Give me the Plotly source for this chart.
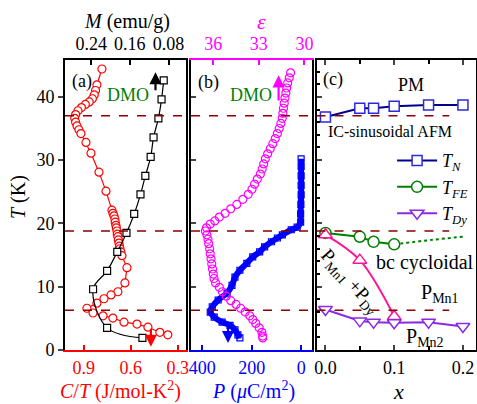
import plotly.graph_objects as go

FONT = "Liberation Serif"

# ---------------- Panel (a) ----------------
T_M = [42.6, 39.6, 36.6, 33.6, 30.5, 27.5, 24.6, 21.5, 18.5, 15.5, 12.5, 9.6, 3.5, 1.9]
M_vals = [0.090, 0.0945, 0.101, 0.111, 0.117, 0.128, 0.138, 0.151, 0.167, 0.186, 0.207, 0.236, 0.207, 0.134]

T_C = [44.4, 41.9, 41.0, 40.3, 39.7, 39.2, 38.8, 38.3, 37.8, 37.2, 36.6, 36.0, 35.4, 34.8, 34.2,
       32.8, 31.1, 28.1, 25.1, 22.1, 21.6, 21.2, 20.7, 20.2, 19.7, 19.3, 18.8, 18.3, 17.9, 17.4,
       16.9, 16.4, 16.0, 15.5, 14.9, 13.0, 10.6, 9.2, 8.7, 8.1, 7.4, 6.6, 5.85, 5.4, 5.05,
       4.4, 4.1, 3.6, 2.8, 2.4]
CT_vals = [0.784, 0.816, 0.825, 0.833, 0.845, 0.865, 0.89, 0.915, 0.937, 0.952, 0.958, 0.952, 0.943, 0.931, 0.918,
           0.886, 0.854, 0.803, 0.758, 0.72, 0.714, 0.707, 0.701, 0.699, 0.695, 0.692, 0.688, 0.686, 0.682, 0.679,
           0.675, 0.672, 0.669, 0.663, 0.656, 0.624, 0.637, 0.682, 0.726, 0.771, 0.816, 0.88, 0.841, 0.777, 0.714,
           0.643, 0.56, 0.49, 0.414, 0.363]

# ---------------- Panel (b) ----------------
T_eps = [43.8, 43.0, 42.2, 41.4, 40.6, 39.8, 39.0, 38.2, 37.4, 36.6, 35.8, 35.0, 34.2, 33.4, 32.6,
         31.8, 31.0, 30.2, 29.4, 28.6, 27.8, 27.0, 26.2, 25.4, 24.6, 23.8, 23.0, 22.3, 21.6, 21.0,
         20.4, 19.9, 19.3, 18.8, 18.2, 17.5, 16.8, 16.0, 15.2, 14.4, 13.6, 12.8, 12.0, 11.3, 10.6,
         9.9, 9.2, 8.5, 7.8, 7.2, 6.6, 6.0, 5.4, 4.8, 4.2, 3.5, 2.8, 2.2, 1.9]
eps_vals = [30.91, 31.0, 31.1, 31.17, 31.22, 31.28, 31.33, 31.38, 31.42, 31.46, 31.55, 31.66, 31.78, 31.92, 32.08,
            32.25, 32.42, 32.57, 32.68, 32.78, 32.9, 33.1, 33.28, 33.45, 33.7, 34.05, 34.45, 34.85, 35.22, 35.6,
            35.9, 36.2, 36.45, 36.52, 36.42, 36.35, 36.3, 36.24, 36.2, 36.15, 36.1, 36.05, 36.0, 35.95, 35.85,
            35.6, 35.4, 35.15, 34.85, 34.5, 34.2, 33.9, 33.6, 33.4, 33.2, 32.98, 32.8, 32.75, 32.74]

T_P = [30.2, 29.0, 27.5, 26.0, 24.5, 23.0, 21.5, 20.2, 19.4, 19.0, 18.2, 17.7, 17.1, 16.3, 15.5,
       14.7, 13.7, 12.6, 11.5, 10.2, 9.0, 7.9, 6.8, 6.0, 5.2, 4.4, 3.9, 3.2, 2.4, 1.9]
P_vals = [0, 0, 0, 0, 0, 1, 2, 2, 16, 40, 76, 96, 120, 148, 168,
          196, 220, 248, 268, 280, 300, 336, 360, 368, 352, 320, 288, 268, 256, 248]

# ---------------- Panel (c) ----------------
x_N = [0.0, 0.05, 0.07, 0.10, 0.15, 0.20]
T_N = [36.8, 38.2, 38.2, 38.5, 38.7, 38.7]
x_FE = [0.0, 0.05, 0.07, 0.10]
T_FE = [18.5, 17.9, 17.1, 16.7]
x_FE_ext = [0.10, 0.155, 0.20]
T_FE_ext = [16.7, 17.4, 17.9]
x_PD = [0.0, 0.05, 0.10]
T_PD = [18.2, 14.2, 5.3]
x_Dy = [0.0, 0.05, 0.07, 0.10, 0.15, 0.20]
T_Dy = [6.4, 4.6, 4.4, 4.3, 4.4, 3.7]

T_trans = [37.0, 18.8, 6.3]
T_ticks = [0, 10, 20, 30, 40]

W, H = 477, 404
dom_a = [65 / W, 185.5 / W]
dom_b = [190.5 / W, 312 / W]
dom_c = [316.5 / W, 476 / W]
dom_y = [1 - 350 / H, 1 - 59.5 / H]
T_range = [0, 45.9]

RED = "#ff0000"
MAG = "#ff00ff"
BLUE = "#0000ff"
DRED = "#8b0000"
GREEN = "#008000"

fig = go.Figure()

fig.add_trace(go.Scatter(x=M_vals, y=T_M, xaxis="x2", yaxis="y", mode="lines+markers",
                         line=dict(color="black", width=1.2, shape="spline"),
                         marker=dict(symbol="square", size=7, color="white", line=dict(color="black", width=1.2)),
                         showlegend=False))
fig.add_trace(go.Scatter(x=CT_vals, y=T_C, xaxis="x", yaxis="y", mode="lines+markers",
                         line=dict(color=RED, width=1.2),
                         marker=dict(symbol="circle", size=8, color="white", line=dict(color=RED, width=1.2)),
                         showlegend=False))

fig.add_trace(go.Scatter(x=eps_vals, y=T_eps, xaxis="x4", yaxis="y2", mode="markers",
                         marker=dict(symbol="circle-open", size=8, color=MAG, line=dict(color=MAG, width=1.2)),
                         showlegend=False))
fig.add_trace(go.Scatter(x=P_vals, y=T_P, xaxis="x3", yaxis="y2", mode="lines+markers",
                         line=dict(color=BLUE, width=6, shape="spline", smoothing=0.5),
                         marker=dict(symbol="square-open", size=6, color=BLUE, line=dict(color=BLUE, width=1.2)),
                         showlegend=False))

fig.add_trace(go.Scatter(x=x_N, y=T_N, xaxis="x5", yaxis="y3", mode="lines+markers",
                         name="<i>T</i><sub><i>N</i></sub>",
                         line=dict(color="#00008b", width=2),
                         marker=dict(symbol="square", size=10, color="white", line=dict(color="#2a2ad8", width=1.5))))
fig.add_trace(go.Scatter(x=x_FE_ext, y=T_FE_ext, xaxis="x5", yaxis="y3", mode="lines",
                         line=dict(color=GREEN, width=2, dash="dot", shape="spline"), showlegend=False))
fig.add_trace(go.Scatter(x=x_FE, y=T_FE, xaxis="x5", yaxis="y3", mode="lines+markers",
                         name="<i>T</i><sub><i>FE</i></sub>",
                         line=dict(color=GREEN, width=2),
                         marker=dict(symbol="circle", size=11, color="white", line=dict(color=GREEN, width=1.5))))
fig.add_trace(go.Scatter(x=x_PD, y=T_PD, xaxis="x5", yaxis="y3", mode="lines+markers",
                         line=dict(color="#ff1493", width=2, shape="spline"),
                         marker=dict(symbol="triangle-up", size=12, color="white", line=dict(color="#ff1493", width=1.5)),
                         showlegend=False))
fig.add_trace(go.Scatter(x=x_Dy, y=T_Dy, xaxis="x5", yaxis="y3", mode="lines+markers",
                         name="<i>T</i><sub><i>Dy</i></sub>",
                         line=dict(color="#8a2be2", width=2),
                         marker=dict(symbol="triangle-down", size=12, color="white", line=dict(color="#8a2be2", width=1.5))))

tickfont = dict(family=FONT, size=18, color="black")

def xax(dom, rng, vals, color, side="bottom", anchor=None, overlaying=None, texts=None):
    d = dict(range=rng, tickvals=vals, showline=True, linecolor=color, linewidth=2,
             ticks="inside", ticklen=5, tickcolor=color, tickwidth=1.5, automargin=False,
             tickfont=dict(family=FONT, size=18, color=color), showgrid=False, zeroline=False,
             side=side, anchor=anchor)
    if texts is not None:
        d["ticktext"] = texts
    if overlaying:
        d["overlaying"] = overlaying
    else:
        d["domain"] = dom
    return d

layout = dict(
    width=W, height=H, margin=dict(l=0, r=0, t=0, b=0, pad=0, autoexpand=False),
    paper_bgcolor="white", plot_bgcolor="white",
    font=dict(family=FONT, size=18, color="black"),
    xaxis=xax(dom_a, [1.02, 0.25], [0.9, 0.6, 0.3], RED, anchor="y", texts=["0.9", "0.6", "0.3"]),
    xaxis2=xax(None, [0.294, 0.045], [0.24, 0.16, 0.08], "black", side="top", anchor="y", overlaying="x"),
    xaxis3=xax(dom_b, [448, -44], [400, 200, 0], BLUE, anchor="y2"),
    xaxis4=xax(None, [37.5, 29.5], [36, 33, 30], MAG, side="top", anchor="y2", overlaying="x3"),
    xaxis5=dict(domain=dom_c, range=[-0.013, 0.219], tickvals=[0, 0.1, 0.2], ticktext=["0.0", "0.1", "0.2"],
                showline=True, mirror="ticks", linecolor="black", linewidth=2, ticks="inside", ticklen=5,
                tickwidth=1.5, minor=dict(dtick=0.05, ticks="inside", ticklen=4, tickcolor="black"),
                tickfont=tickfont, automargin=False, showgrid=False, zeroline=False, anchor="y3"),
    yaxis=dict(domain=dom_y, range=T_range, tickvals=T_ticks, showline=True, mirror=True, linecolor="black",
               linewidth=2, ticks="outside", ticklen=5, tickwidth=1.5, tickfont=tickfont, automargin=False,
               showgrid=False, zeroline=False, anchor="x"),
    yaxis2=dict(domain=dom_y, range=T_range, tickvals=T_ticks, showline=True, mirror=True, linecolor="black",
                linewidth=2, ticks="inside", ticklen=5, tickwidth=1.5, showticklabels=False, automargin=False,
                showgrid=False, zeroline=False, anchor="x3"),
    yaxis3=dict(domain=dom_y, range=T_range, tickvals=T_ticks, showline=True, mirror=True, linecolor="black",
                linewidth=2, ticks="inside", ticklen=5, tickwidth=1.5, showticklabels=False, automargin=False,
                minor=dict(dtick=2, ticks="inside", ticklen=3, tickcolor="black"),
                showgrid=False, zeroline=False, anchor="x5"),
    legend=dict(x=0.822, y=0.648, xanchor="left", yanchor="top", bgcolor="rgba(0,0,0,0)",
                font=dict(family=FONT, size=18), tracegroupgap=0, itemwidth=40),
    showlegend=True,
)
fig.update_layout(**layout)

shapes = []
for t in T_trans:
    shapes.append(dict(type="line", xref="paper", yref="y", x0=dom_a[0], x1=dom_c[0], y0=t, y1=t,
                       line=dict(color=DRED, width=1.5, dash="dash")))
    shapes.append(dict(type="line", xref="x5", yref="y3", x0=-0.013, x1=0.18, y0=t, y1=t,
                       line=dict(color=DRED, width=1.5, dash="dash")))
fig.update_layout(shapes=shapes)

ann = []
def txt(x, y, text, xref, yref, size=18, color="black", angle=0, xanchor="center"):
    ann.append(dict(x=x, y=y, xref=xref, yref=yref, text=text, showarrow=False,
                    font=dict(family=FONT, size=size, color=color), textangle=angle, xanchor=xanchor,
                    yanchor="middle"))

# axis titles
txt(127 / W, 1 - 21 / H, "<i>M</i> (emu/g)", "paper", "paper", size=20)
txt(261 / W, 1 - 21 / H, "<i>ε</i>", "paper", "paper", size=22, color=MAG)
txt(120 / W, 1 - 390 / H, "<i>C</i>/<i>T</i> (J/mol-K<sup>2</sup>)", "paper", "paper", size=20, color=RED)
txt(253 / W, 1 - 390 / H, "<i>P</i> (<i>μ</i>C/m<sup>2</sup>)", "paper", "paper", size=20, color=BLUE)
txt(398 / W, 1 - 391 / H, "<i>x</i>", "paper", "paper", size=22)
txt(18 / W, 1 - 197 / H, "<i>T</i> (K)", "paper", "paper", size=20, angle=-90)

# panel labels and texts
txt(82 / W, 1 - 82 / H, "(a)", "paper", "paper")
txt(208 / W, 1 - 83 / H, "(b)", "paper", "paper")
txt(333 / W, 1 - 80 / H, "(c)", "paper", "paper")
txt(0.618, 40.3, "DMO", "x", "y", size=18, color=GREEN)
txt(33.52, 40.3, "DMO", "x4", "y2", size=18, color=GREEN)
txt(0.125, 41.9, "PM", "x5", "y3", size=18)
txt(0.094, 34.5, "IC-sinusoidal AFM", "x5", "y3", size=16)
txt(0.145, 13.9, "bc cycloidal", "x5", "y3", size=20)
txt(0.167, 9.0, "P<sub>Mn1</sub>", "x5", "y3", size=20)
txt(0.145, 2.0, "P<sub>Mn2</sub>", "x5", "y3", size=20)
txt(0.036, 10.8, "P<sub>Mn1</sub> +P<sub>Dy</sub>", "x5", "y3", size=19, angle=48)

# arrows
def arrow(x, y0, y1, xref, yref, color):
    ann.append(dict(x=x, y=y1, ax=x, ay=y0, xref=xref, yref=yref, axref=xref, ayref=yref, text="",
                    showarrow=True, arrowhead=2, arrowsize=1.1, arrowwidth=2.2, arrowcolor=color))

arrow(0.107, 40.8, 43.9, "x2", "y", "black")
arrow(0.471, 3.6, 0.5, "x", "y", RED)
arrow(31.7, 39.2, 43.4, "x4", "y2", MAG)
arrow(296, 4.3, 1.1, "x3", "y2", BLUE)

fig.update_layout(annotations=ann)
fig.write_html("out.html")
